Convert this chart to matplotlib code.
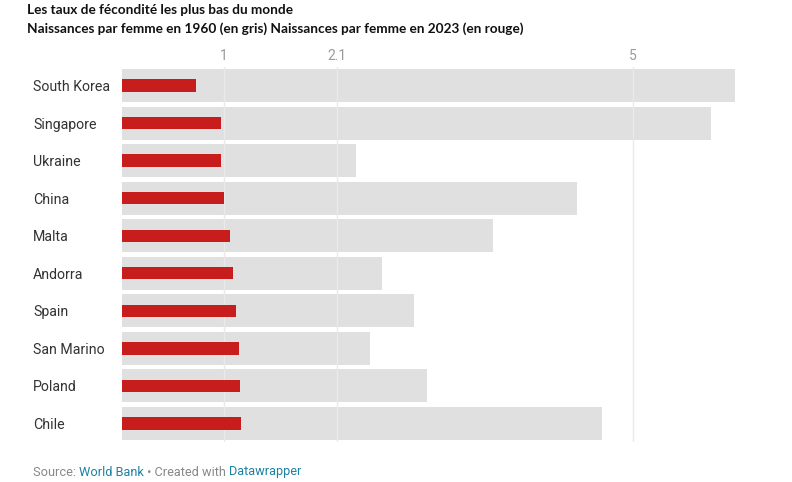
import matplotlib.pyplot as plt

# Data
countries = ['South Korea', 'Singapore', 'Ukraine', 'China', 'Malta',
             'Andorra', 'Spain', 'San Marino', 'Poland', 'Chile']
births_1960 = [6.0, 5.76, 2.29, 4.45, 3.63, 2.54, 2.86, 2.43, 2.98, 4.70]
births_2023 = [0.72, 0.97, 0.97, 1.00, 1.06, 1.09, 1.12, 1.14, 1.15, 1.16]
tick_values = [1, 2.1, 5]
tick_labels = ['1', '2.1', '5']

W, H = 792, 482
fig = plt.figure(figsize=(W / 100, H / 100), dpi=100)

# axes placed in pixel terms
left, right = 122, 782
top, bottom = 66.7, 442.3
ax = fig.add_axes([left / W, 1 - bottom / H, (right - left) / W, (bottom - top) / H])

px_per_unit = 102.2
ax.set_xlim(0, (right - left) / px_per_unit)
ax.set_ylim(len(countries) - 0.5, -0.5)

y = list(range(len(countries)))
ax.barh(y, births_1960, height=0.88, color='#e0e0e0', zorder=1)
for xv in tick_values:
    ax.axvline(xv, color='#eaeaea', lw=1, zorder=2)
ax.barh(y, births_2023, height=0.33, color='#c71e1d', zorder=3)

ax.set_yticks(y)
ax.set_yticklabels(countries, fontfamily='Roboto', fontsize=10.2, color='#333333')
ax.tick_params(axis='y', length=0, pad=0)
for lbl in ax.get_yticklabels():
    lbl.set_horizontalalignment('left')
    lbl.set_x(-(122 - 33) / (right - left))

ax.set_xticks(tick_values)
ax.set_xticklabels(tick_labels, fontfamily='Roboto', fontsize=10, color='#9a9a9a')
ax.xaxis.tick_top()
ax.tick_params(axis='x', length=0, pad=3)

for s in ax.spines.values():
    s.set_visible(False)

# titles
fig.text(27 / W, 1 - 10 / H, 'Les taux de fécondité les plus bas du monde',
         fontfamily='Lato', fontweight='bold', fontsize=9.8, color='#111111', va='center')
fig.text(27 / W, 1 - 29 / H,
         'Naissances par femme en 1960 (en gris) Naissances par femme en 2023 (en rouge)',
         fontfamily='Lato', fontweight='bold', fontsize=9.8, color='#111111', va='center')

# footer with coloured parts
parts = [('Source: ', '#888888'), ('World Bank', '#1d81a2'),
         (' • Created with ', '#888888'), ('Datawrapper', '#1d81a2')]
footer = [fig.text(0, 0, txt, fontfamily='Roboto', fontsize=9.2, color=col, va='center')
          for txt, col in parts]
fig.canvas.draw()
renderer = fig.canvas.get_renderer()
x_px = 33
for t in footer:
    t.set_position((x_px / W, 1 - 472 / H))
    x_px += t.get_window_extent(renderer).width

fig.savefig('out.png', dpi=100, facecolor='white')
